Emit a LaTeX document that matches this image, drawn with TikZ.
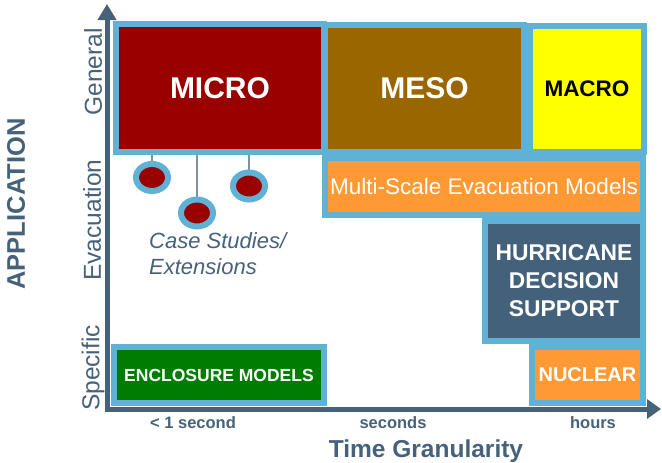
\documentclass[tikz,border=0pt]{standalone}
\usepackage{fontspec}
\setmainfont{Liberation Sans}
\usepackage{tikz}
\usetikzlibrary{arrows.meta}
\usetikzlibrary{positioning}
\usetikzlibrary{shapes.geometric}
\usetikzlibrary{backgrounds}
\definecolor{slate}{RGB}{70,98,122}
\definecolor{skyline}{RGB}{95,178,214}
\definecolor{microred}{RGB}{153,0,0}
\definecolor{mesobrown}{RGB}{153,102,0}
\definecolor{macroyellow}{RGB}{255,255,0}
\definecolor{evacorange}{RGB}{255,153,51}
\definecolor{enclgreen}{RGB}{0,125,0}
\definecolor{hurrslate}{RGB}{68,97,123}
\definecolor{wiregray}{RGB}{128,146,162}
\tikzstyle{block}=[draw=skyline,line width=6pt,inner sep=0pt,outer sep=0pt,text=white,align=center]
\tikzstyle{bubble}=[draw=skyline,line width=6pt,fill=microred,ellipse,minimum width=32pt,minimum height=27pt,inner sep=0pt]
\tikzstyle{axislabel}=[text=slate,rotate=90,inner sep=0pt,font=\fontsize{24.5}{28}\selectfont]
\tikzstyle{ticktext}=[text=slate,anchor=base,inner sep=0pt,font=\fontsize{16.5}{20}\selectfont\bfseries]
\begin{document}
\begin{tikzpicture}[x=1pt,y=-1pt]
\useasboundingbox (0,0) rectangle (662,463);
% axes
\coordinate (ytop) at (107,4);
\coordinate (xend) at (661,409);
\draw[slate,line width=5pt,{Triangle[length=16pt,width=18pt]}-{Triangle[length=14pt,width=19pt]}] (ytop) |- (xend);
% model blocks
\node [block,fill=microred,minimum width=208pt,minimum height=128pt,font=\fontsize{30}{36}\selectfont\bfseries] (micro) at (220,88) {MICRO};
\node [block,fill=mesobrown,minimum width=199pt,minimum height=127pt,font=\fontsize{30}{36}\selectfont\bfseries] (meso) at (424.5,88.5) {MESO};
\node [block,fill=macroyellow,text=black,minimum width=114pt,minimum height=126pt,font=\fontsize{22.5}{27}\selectfont\bfseries] (macro) at (587,89) {MACRO};
\node [block,fill=evacorange,minimum width=318pt,minimum height=57pt,font=\fontsize{22.5}{27}\selectfont] (multi) at (484,186.5) {Multi-Scale Evacuation Models};
\node [block,fill=hurrslate,minimum width=158pt,minimum height=120pt,font=\fontsize{22.8}{28}\selectfont\bfseries] (hurr) at (564,281) {HURRICANE\\DECISION\\SUPPORT};
\node [block,fill=evacorange,minimum width=111pt,minimum height=56pt,font=\fontsize{20}{24}\selectfont\bfseries] (nuclear) at (587.5,375) {NUCLEAR};
\node [block,fill=enclgreen,minimum width=210pt,minimum height=56pt,font=\fontsize{17.5}{21}\selectfont\bfseries] (encl) at (219,375) {ENCLOSURE MODELS};
% case studies
\node [bubble] (c1) at (152,177.5) {};
\node [bubble] (c2) at (197,213) {};
\node [bubble] (c3) at (249,186) {};
\begin{scope}[on background layer]
\draw [wiregray,line width=1.2pt] (c1.north) -- (c1.north |- micro.south);
\draw [wiregray,line width=1.2pt] (c2.north) -- (c2.north |- micro.south);
\draw [wiregray,line width=1.2pt] (c3.north) -- (c3.north |- micro.south);
\end{scope}
\node [anchor=base west,align=left,inner sep=0pt,text=slate,font=\fontsize{22}{26}\selectfont\itshape] (cases) at (149,274) {Case Studies/\\Extensions};
% axis texts
\node [axislabel] (general) at (93,72) {General};
\node [axislabel] (evac) at (92,220) {Evacuation};
\node [axislabel] (specific) at (93,368) {Specific};
\node [axislabel,font=\fontsize{25.5}{30}\selectfont\bfseries] (app) at (16,204) {APPLICATION};
\node [ticktext] (sub) at (193,428) {< 1 second};
\node [ticktext] (sec) at (393,428) {seconds};
\node [ticktext] (hrs) at (593,428) {hours};
\node [ticktext,font=\fontsize{24.5}{28}\selectfont\bfseries] (time) at (426,457) {Time Granularity};
\end{tikzpicture}
\end{document}
